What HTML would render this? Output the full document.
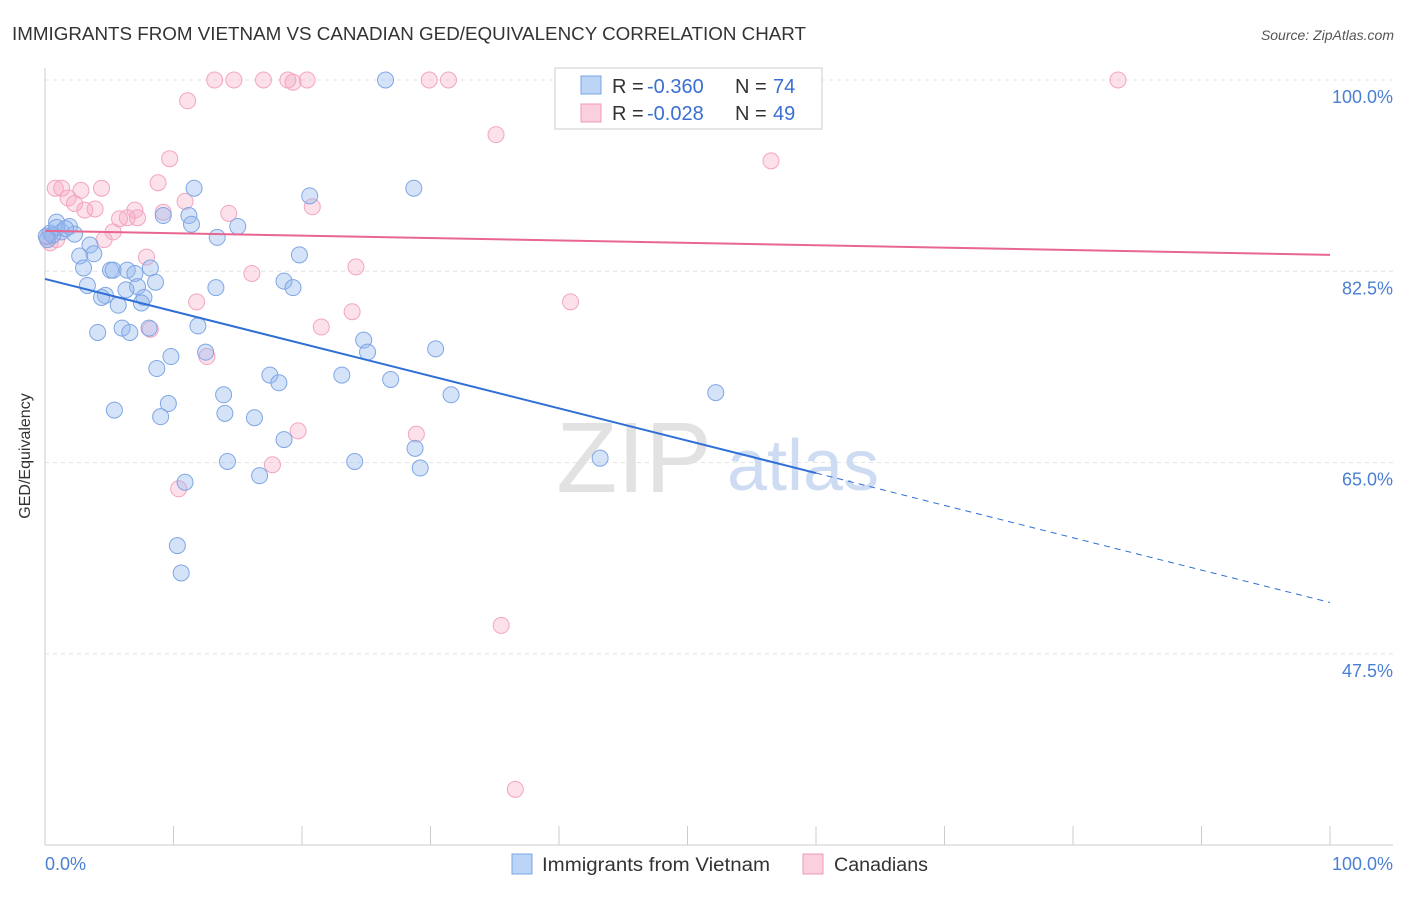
<!DOCTYPE html>
<html><head><meta charset="utf-8"><style>
body{margin:0;background:#fff;font-family:"Liberation Sans",sans-serif;}
svg text{font-family:"Liberation Sans",sans-serif;}
</style></head><body>
<svg width="1406" height="892" xmlns="http://www.w3.org/2000/svg">
<text x="12" y="40" font-size="18" fill="#333" textLength="794" lengthAdjust="spacingAndGlyphs">IMMIGRANTS FROM VIETNAM VS CANADIAN GED/EQUIVALENCY CORRELATION CHART</text>
<text x="1394" y="40" font-size="14" fill="#555" font-style="italic" text-anchor="end">Source: ZipAtlas.com</text>
<g id="grid"></g>
<g><text x="634" y="492" font-size="100" fill="#e2e2e2" font-family="Liberation Serif" text-anchor="middle">ZIP</text><text x="803" y="490" font-size="72" fill="#cddcf2" text-anchor="middle">atlas</text></g>
<line x1="45" y1="68" x2="45" y2="845" stroke="#ccc"/>
<line x1="45" y1="845" x2="1393" y2="845" stroke="#ccc"/>
<g id="ticks"></g>
<text x="30" y="456" font-size="16" fill="#333" text-anchor="middle" transform="rotate(-90 30 456)">GED/Equivalency</text>
<text x="45" y="870" font-size="18" fill="#4a7fd4">0.0%</text>
<text x="1393" y="870" font-size="18" fill="#4a7fd4" text-anchor="end">100.0%</text>
<g id="pink"></g>
<g id="blue"></g>
<g id="lines"></g>
<g>
<rect x="555" y="68" width="267" height="61" fill="#fff" stroke="#ccc"/>
<rect x="581" y="76" width="20" height="18" fill="#bcd4f6" stroke="#7aa6e6"/>
<text x="612" y="93" font-size="20" fill="#333">R =</text>
<text x="647" y="93" font-size="20" fill="#3a6fd0">-0.360</text>
<text x="735" y="93" font-size="20" fill="#333">N =</text>
<text x="773" y="93" font-size="20" fill="#3a6fd0">74</text>
<rect x="581" y="104" width="20" height="18" fill="#fbd0de" stroke="#f098b6"/>
<text x="612" y="120" font-size="20" fill="#333">R =</text>
<text x="647" y="120" font-size="20" fill="#3a6fd0">-0.028</text>
<text x="735" y="120" font-size="20" fill="#333">N =</text>
<text x="773" y="120" font-size="20" fill="#3a6fd0">49</text>
</g>
<g>
<rect x="512" y="854" width="20" height="20" fill="#bcd4f6" stroke="#7aa6e6"/>
<text x="542" y="871" font-size="19" fill="#333" textLength="228" lengthAdjust="spacingAndGlyphs">Immigrants from Vietnam</text>
<rect x="803" y="854" width="20" height="20" fill="#fbd0de" stroke="#f098b6"/>
<text x="834" y="871" font-size="19" fill="#333" textLength="94" lengthAdjust="spacingAndGlyphs">Canadians</text>
</g>
</svg>
<script>
const yTicks=[100,82.5,65,47.5];
const yTickLabels=["100.0%","82.5%","65.0%","47.5%"];
const blueX=[26.5,11.6,20.6,28.7,9.2,11.2,11.4,15.0,13.4,0.9,1.3,1.9,0.4,2.3,0.2,3.5,19.8,3.8,2.7,3.0,5.1,6.4,7.0,8.2,5.3,3.3,8.6,7.2,6.3,18.6,19.3,13.3,4.7,4.4,7.7,5.7,7.5,11.9,6.0,4.1,6.6,8.1,24.8,25.1,12.5,30.4,9.8,8.7,17.5,23.1,18.2,26.9,13.9,31.6,52.2,9.6,5.4,9.0,14.0,16.3,18.6,28.8,14.2,24.1,29.2,43.2,16.7,10.9,10.3,10.6,0.6,0.9,1.6,0.1];
const blueY=[100,90.1,89.4,90.1,87.6,87.6,86.8,86.6,85.6,87.0,86.1,86.6,86.0,85.9,85.4,84.9,84.0,84.1,83.9,82.8,82.6,82.6,82.3,82.8,82.6,81.2,81.5,81.1,80.8,81.6,81.0,81.0,80.3,80.1,80.1,79.4,79.6,77.5,77.3,76.9,76.9,77.3,76.2,75.1,75.1,75.4,74.7,73.6,73.0,73.0,72.3,72.6,71.2,71.2,71.4,70.4,69.8,69.2,69.5,69.1,67.1,66.3,65.1,65.1,64.5,65.4,63.8,63.2,57.4,54.9,85.8,86.5,86.4,85.7];
const pinkX=[13.2,14.7,17.0,18.9,19.3,20.4,29.9,31.4,83.5,11.1,35.1,9.7,56.5,0.8,1.3,2.8,4.4,8.8,1.8,2.3,3.1,3.9,10.9,20.8,14.3,7.0,5.8,6.4,7.2,9.2,5.3,4.6,0.9,0.2,7.9,16.1,24.2,11.8,40.9,23.9,21.5,8.2,12.6,19.7,28.9,17.7,10.4,35.5,36.6,0.4];
const pinkY=[100,100,100,100,99.8,100,100,100,100,98.1,95.0,92.8,92.6,90.1,90.1,89.9,90.1,90.6,89.2,88.7,88.1,88.2,88.9,88.4,87.8,88.1,87.3,87.4,87.4,87.9,86.1,85.4,85.4,85.6,83.8,82.3,82.9,79.7,79.7,78.8,77.4,77.2,74.7,67.9,67.6,64.8,62.6,50.1,35.1,85.1];
const blueTrend=[81.8,52.2];
const pinkTrend=[86.2,84.0];
const NS="http://www.w3.org/2000/svg";
const X=v=>45+v*12.85;
const Y=v=>80+(100-v)*10.93;
function mk(tag,attrs,parent){const e=document.createElementNS(NS,tag);for(const k in attrs)e.setAttribute(k,attrs[k]);parent.appendChild(e);return e;}
const grid=document.getElementById('grid');
yTicks.forEach((t,i)=>{
 const l=mk('line',{x1:45,x2:1393,y1:Y(t),y2:Y(t),stroke:'#e3e3e3','stroke-dasharray':'4,4'},grid);
 
 
 const tx=mk('text',{x:1393,y:Y(t)+23,'font-size':18,fill:'#4a7fd4','text-anchor':'end'},grid);
 tx.textContent=yTickLabels[i];
 
 
});
const ticks=document.getElementById('ticks');
for(let i=0;i<=10;i++){
 const l=mk('line',{x1:X(i*10),x2:X(i*10),y1:826,y2:845,stroke:'#ccc'},ticks);
 
 
}
function pts(xs,ys,g,fill,stroke,name){
 xs.forEach((x,i)=>{
  const c=mk('circle',{cx:X(x),cy:Y(ys[i]),r:8,fill:fill,stroke:stroke,'stroke-width':1},g);
  
  
 });
}
pts(pinkX,pinkY,document.getElementById('pink'),'rgba(247,170,198,0.35)','#f3a5c0','canadians-point');
pts(blueX,blueY,document.getElementById('blue'),'rgba(150,185,240,0.4)','#7fa6e4','vietnam-point');
const lines=document.getElementById('lines');
const bAt=p=>blueTrend[0]+(blueTrend[1]-blueTrend[0])*p/100;
const b1=mk('line',{x1:X(0),y1:Y(bAt(0)),x2:X(60),y2:Y(bAt(60)),stroke:'#2f6fd6','stroke-width':2},lines);


const b2=mk('line',{x1:X(60),y1:Y(bAt(60)),x2:X(100),y2:Y(bAt(100)),stroke:'#2f6fd6','stroke-width':1,'stroke-dasharray':'6,5'},lines);


const p1=mk('line',{x1:X(0),y1:Y(pinkTrend[0]),x2:X(100),y2:Y(pinkTrend[1]),stroke:'#e8668f','stroke-width':2},lines);


</script>
</body></html>
